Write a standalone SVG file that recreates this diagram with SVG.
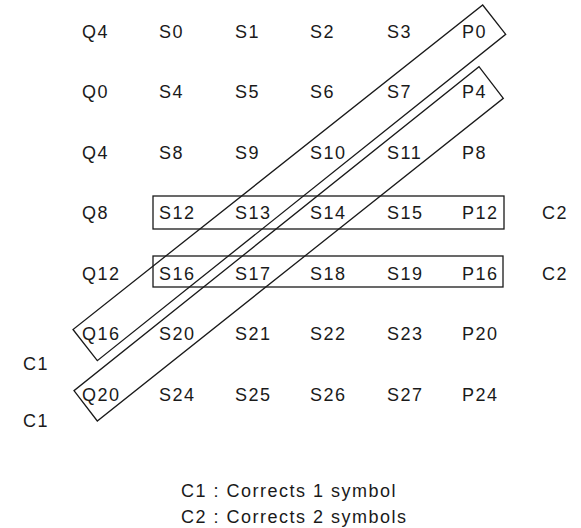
<svg xmlns="http://www.w3.org/2000/svg" width="581" height="528" viewBox="0 0 581 528">
<style>
text{font-family:"Liberation Sans",Arial,sans-serif;font-size:18px;letter-spacing:1.5px;fill:#1a1a1a}
.box{fill:none;stroke:#1a1a1a;stroke-width:1.3}
</style>
<rect width="581" height="528" fill="#fff"/>
<g id="grid">
<g id="row0"><text x="82" y="37.5">Q4</text><text x="159" y="37.5">S0</text><text x="235" y="37.5">S1</text><text x="310" y="37.5">S2</text><text x="387" y="37.5">S3</text><text x="462" y="37.5">P0</text></g>
<g id="row1"><text x="82" y="98">Q0</text><text x="159" y="98">S4</text><text x="235" y="98">S5</text><text x="310" y="98">S6</text><text x="387" y="98">S7</text><text x="462" y="98">P4</text></g>
<g id="row2"><text x="82" y="158.5">Q4</text><text x="159" y="158.5">S8</text><text x="235" y="158.5">S9</text><text x="310" y="158.5">S10</text><text x="387" y="158.5">S11</text><text x="462" y="158.5">P8</text></g>
<g id="row3"><text x="82" y="219">Q8</text><text x="159" y="219">S12</text><text x="235" y="219">S13</text><text x="310" y="219">S14</text><text x="387" y="219">S15</text><text x="462" y="219">P12</text><text x="542" y="219">C2</text></g>
<g id="row4"><text x="82" y="279.5">Q12</text><text x="159" y="279.5">S16</text><text x="235" y="279.5">S17</text><text x="310" y="279.5">S18</text><text x="387" y="279.5">S19</text><text x="462" y="279.5">P16</text><text x="542" y="279.5">C2</text></g>
<g id="row5"><text x="82" y="340">Q16</text><text x="159" y="340">S20</text><text x="235" y="340">S21</text><text x="310" y="340">S22</text><text x="387" y="340">S23</text><text x="462" y="340">P20</text></g>
<g id="row6"><text x="82" y="400.5">Q20</text><text x="159" y="400.5">S24</text><text x="235" y="400.5">S25</text><text x="310" y="400.5">S26</text><text x="387" y="400.5">S27</text><text x="462" y="400.5">P24</text></g>
<g id="c1labels"><text x="23" y="370">C1</text><text x="23" y="427">C1</text></g>
</g>
<g id="boxes">
<rect id="boxRow3" class="box" x="153" y="196" width="351" height="33"/>
<rect id="boxRow4" class="box" x="153" y="256" width="350" height="31"/>
<polygon id="diag1" class="box" points="73,329.5 97.3,360.7 505.7,34.3 482.7,5"/>
<polygon id="diag2" class="box" points="74,390.7 97.3,421 503.3,98.3 479,66.7"/>
</g>
<g id="legend">
<text x="181" y="496.5">C1 : Corrects 1 symbol</text>
<text x="181" y="522.5">C2 : Corrects 2 symbols</text>
</g>
</svg>
